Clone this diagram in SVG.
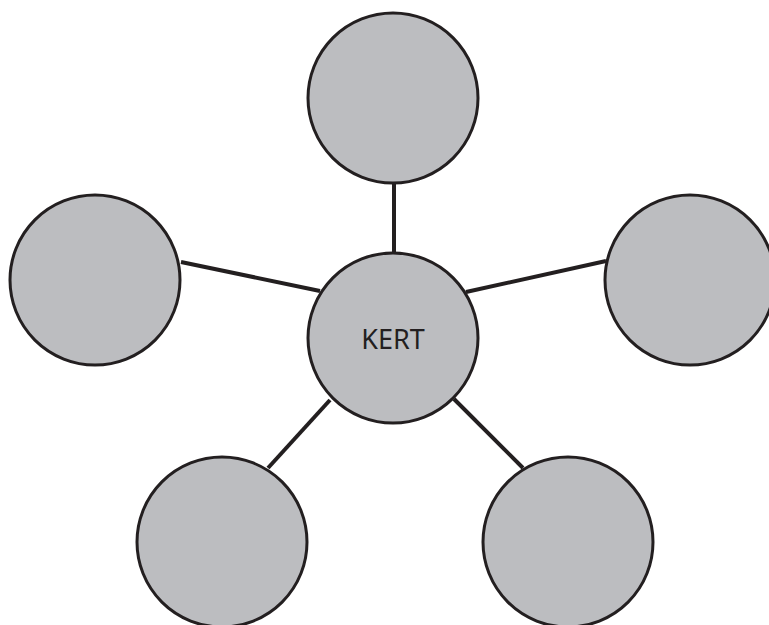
<svg xmlns="http://www.w3.org/2000/svg" width="769" height="625" viewBox="0 0 769 625">
<style>
.node{fill:#bcbdc0;stroke:#231f20;stroke-width:3}
.edge{stroke:#231f20;stroke-width:4;fill:none}
.lbl{font-family:"Noto Sans","Open Sans",sans-serif;font-size:27px;fill:#231f20;text-anchor:middle}
</style>
<rect width="769" height="625" fill="#ffffff"/>
<g id="connectors">
<line class="edge" x1="394" y1="183" x2="394" y2="253"/>
<line class="edge" x1="181" y1="262" x2="320" y2="291"/>
<line class="edge" x1="466" y1="292" x2="606" y2="261"/>
<line class="edge" x1="330" y1="400" x2="268" y2="468"/>
<line class="edge" x1="454" y1="399" x2="523" y2="468"/>
</g>
<g id="node-top"><circle class="node" cx="393" cy="98" r="85"/></g>
<g id="node-left"><circle class="node" cx="95" cy="280" r="85"/></g>
<g id="node-right"><circle class="node" cx="690" cy="280" r="85"/></g>
<g id="node-bottom-left"><circle class="node" cx="222" cy="542" r="85"/></g>
<g id="node-bottom-right"><circle class="node" cx="568" cy="542" r="85"/></g>
<g id="node-center"><circle class="node" cx="393" cy="338" r="85"/><text class="lbl" x="393" y="349">KERT</text></g>
</svg>
